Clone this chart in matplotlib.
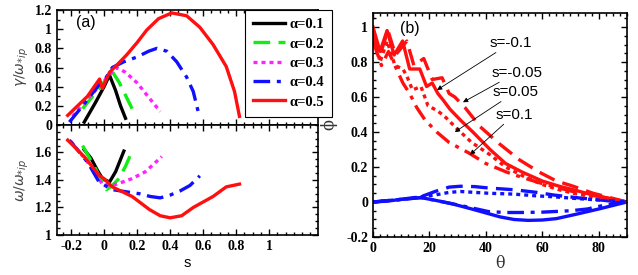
import matplotlib
matplotlib.use("Agg")
import matplotlib.pyplot as plt
from matplotlib.ticker import MultipleLocator, FixedLocator

# ---------------- data ----------------
alphas = ["α=0.1", "α=0.2", "α=0.3", "α=0.4", "α=0.5"]

# growth rate gamma vs s
g_s1 = [-0.12, -0.05, 0.0, 0.033, 0.07, 0.10, 0.13]
g_y1 = [0.03, 0.24, 0.40, 0.52, 0.36, 0.20, 0.07]
g_s2 = [-0.13, -0.05, 0.0, 0.045, 0.09, 0.13, 0.17]
g_y2 = [0.17, 0.34, 0.45, 0.57, 0.45, 0.31, 0.17]
g_s3 = [-0.19, -0.1, -0.02, 0.03, 0.076, 0.13, 0.2, 0.27, 0.34]
g_y3 = [0.09, 0.27, 0.42, 0.52, 0.60, 0.55, 0.44, 0.29, 0.14]
g_s4 = [-0.21, -0.12, -0.03, 0.0, 0.05, 0.12, 0.2, 0.27, 0.32, 0.38, 0.44, 0.5, 0.54, 0.57]
g_y4 = [0.03, 0.22, 0.42, 0.46, 0.60, 0.66, 0.71, 0.77, 0.80, 0.77, 0.66, 0.50, 0.35, 0.14]
g_s5 = [-0.22, -0.1, -0.027, -0.01, 0.033, 0.08, 0.136, 0.2, 0.258, 0.33, 0.41, 0.5, 0.58, 0.66, 0.74, 0.79, 0.82]
g_y5 = [0.10, 0.30, 0.48, 0.38, 0.55, 0.63, 0.73, 0.86, 0.99, 1.11, 1.17, 1.14, 1.02, 0.84, 0.61, 0.35, 0.09]

# real frequency omega vs s
w_s1 = [-0.12, -0.08, -0.04, -0.01, 0.033, 0.07, 0.1, 0.12]
w_y1 = [1.62, 1.56, 1.47, 1.41, 1.385, 1.46, 1.55, 1.61]
w_s2 = [-0.13, -0.06, -0.01, 0.015, 0.05, 0.09, 0.13, 0.17]
w_y2 = [1.65, 1.50, 1.385, 1.33, 1.36, 1.41, 1.50, 1.61]
w_s3 = [-0.2, -0.1, -0.01, 0.05, 0.1, 0.17, 0.25, 0.35]
w_y3 = [1.68, 1.53, 1.37, 1.36, 1.38, 1.41, 1.46, 1.57]
w_s4 = [-0.21, -0.1, -0.03, 0.05, 0.13, 0.215, 0.28, 0.34, 0.4, 0.46, 0.52, 0.58]
w_y4 = [1.69, 1.53, 1.385, 1.33, 1.315, 1.30, 1.28, 1.27, 1.29, 1.32, 1.36, 1.43]
w_s5 = [-0.22, -0.12, -0.027, 0.0, 0.05, 0.17, 0.275, 0.34, 0.40, 0.47, 0.54, 0.6, 0.66, 0.74, 0.82]
w_y5 = [1.69, 1.57, 1.43, 1.41, 1.35, 1.28, 1.185, 1.14, 1.125, 1.14, 1.20, 1.24, 1.28, 1.35, 1.37]

# panel (b): mode structure phi vs theta
s_labels = ["s=-0.1", "s=-0.05", "s=0.05", "s=0.1"]
r_t1 = [0, 2.5, 5, 7.5, 10.5, 13, 16.6, 19, 21, 23, 25, 27.3, 31.5, 35.4, 41.5, 47, 53, 60, 66, 71, 78, 84, 90]
r_p1 = [1.0, 0.86, 0.98, 0.84, 0.92, 0.76, 0.76, 0.66, 0.68, 0.62, 0.58, 0.53, 0.46, 0.40, 0.30, 0.22, 0.17, 0.12, 0.09, 0.07, 0.04, 0.02, 0.0]
r_t2 = [0, 2.5, 5.3, 8, 12, 14.5, 18, 21, 24.5, 27, 29, 32.6, 38, 45, 52, 59, 65, 71, 78, 84, 90]
r_p2 = [0.96, 0.84, 0.98, 0.84, 0.92, 0.78, 0.82, 0.70, 0.71, 0.62, 0.60, 0.54, 0.43, 0.33, 0.24, 0.17, 0.12, 0.09, 0.05, 0.025, 0.0]
r_t3 = [0, 2.5, 5, 7.8, 10.6, 12, 14, 17, 19.5, 23, 26, 29.7, 35, 41.5, 47, 53, 60, 66, 71, 78, 84, 90]
r_p3 = [0.97, 0.80, 0.92, 0.78, 0.76, 0.72, 0.64, 0.66, 0.55, 0.52, 0.48, 0.42, 0.34, 0.27, 0.20, 0.15, 0.10, 0.07, 0.05, 0.03, 0.015, 0.0]
r_t4 = [0, 3, 5.5, 8.9, 10.6, 13, 15.5, 18.4, 22.6, 27, 34, 40, 47.5, 53, 59, 66, 72, 77, 84, 90]
r_p4 = [0.92, 0.78, 0.86, 0.74, 0.68, 0.62, 0.54, 0.47, 0.40, 0.34, 0.28, 0.22, 0.17, 0.14, 0.11, 0.08, 0.055, 0.04, 0.02, 0.0]

b_t1 = [0, 5, 10, 17, 22, 28, 35, 45, 50, 55, 60, 65, 72, 80, 85, 90]
b_p1 = [0, 0.005, 0.015, 0.025, 0.01, -0.01, -0.04, -0.085, -0.1, -0.105, -0.103, -0.095, -0.07, -0.04, -0.02, 0]
b_t2 = [0, 10, 17, 22, 27, 31, 36, 41, 50, 58, 64, 72, 81.5, 90]
b_p2 = [0, 0.015, 0.03, 0.06, 0.085, 0.09, 0.088, 0.08, 0.07, 0.055, 0.04, 0.025, 0.01, 0]
b_t3 = [0, 10, 17, 22, 27, 31, 41, 50, 58, 64, 72, 81.5, 90]
b_p3 = [0, 0.015, 0.03, 0.04, 0.055, 0.06, 0.05, 0.045, 0.035, 0.03, 0.02, 0.01, 0]
b_t4 = [0, 10, 17, 22, 28, 34, 41, 47, 52, 60, 70, 76, 81.5, 86, 90]
b_p4 = [0, 0.015, 0.025, 0.01, -0.01, -0.03, -0.055, -0.06, -0.06, -0.058, -0.05, -0.04, -0.02, -0.005, 0]

# ---------------- style ----------------
cols = ["black", "#11ee11", "#ff22ff", "#1010ff", "#ff1010"]
styles = ["-", (0, (5, 2.5)), (0, (1.2, 1.2)), (0, (5, 2, 1.2, 2)), "-"]
lw = 2.4
tickfont = dict(family="Liberation Serif", weight="bold", size=10)

fig = plt.figure(figsize=(6.38, 2.75), dpi=100)
ax1 = fig.add_axes([0.0893, 0.5455, 0.409, 0.418])
ax2 = fig.add_axes([0.0893, 0.1455, 0.409, 0.400])
ax3 = fig.add_axes([0.5846, 0.1382, 0.398, 0.8145])


def style_ax(ax):
    ax.tick_params(which="both", direction="in", top=True, right=True, width=1.0)
    ax.tick_params(which="major", length=4)
    ax.tick_params(which="minor", length=2)
    for sp in ax.spines.values():
        sp.set_linewidth(1.2)
    for lab in ax.get_xticklabels() + ax.get_yticklabels():
        lab.set_fontfamily(tickfont["family"])
        lab.set_fontweight(tickfont["weight"])
        lab.set_fontsize(tickfont["size"])


gs = [(g_s1, g_y1), (g_s2, g_y2), (g_s3, g_y3), (g_s4, g_y4), (g_s5, g_y5)]
ws = [(w_s1, w_y1), (w_s2, w_y2), (w_s3, w_y3), (w_s4, w_y4), (w_s5, w_y5)]
for i in range(5):
    ax1.plot(gs[i][0], gs[i][1], color=cols[i], ls=styles[i], lw=lw, label=alphas[i])
    ax2.plot(ws[i][0], ws[i][1], color=cols[i], ls=styles[i], lw=lw)

xlim = (-0.285, 1.295)
for ax in (ax1, ax2):
    ax.set_xlim(*xlim)
    ax.xaxis.set_minor_locator(MultipleLocator(0.05))
ax1.set_ylim(0, 1.2)
ax1.set_xticks([-0.2, 0, 0.2, 0.4, 0.6, 0.8, 1.0])
ax1.set_xticklabels([])
ax1.yaxis.set_minor_locator(MultipleLocator(0.1))
ax1.set_yticks([0, 0.2, 0.4, 0.6, 0.8, 1.0, 1.2])
ax1.set_yticklabels(["0", "0.2", "0.4", "0.6", "0.8", "1", "1.2"])
ax2.set_ylim(1, 1.8)
ax2.yaxis.set_minor_locator(MultipleLocator(0.05))
ax2.set_xticks([-0.2, 0, 0.2, 0.4, 0.6, 0.8, 1.0])
ax2.set_xticklabels(["-0.2", "0", "0.2", "0.4", "0.6", "0.8", "1"])
ax2.set_yticks([1.0, 1.2, 1.4, 1.6])
ax2.set_yticklabels(["1", "1.2", "1.4", "1.6"])

ax1.set_ylabel(r"$\gamma/\omega_{*ip}$", fontsize=10, color="#444444", labelpad=3)
ax2.set_ylabel(r"$\omega/\omega_{*ip}$", fontsize=10, color="#444444", labelpad=3)
ax2.set_xlabel("s", fontsize=10.5, family="Liberation Sans", labelpad=2)
ax1.text(-0.17, 1.07, "(a)", fontsize=11.5, family="Liberation Sans", va="center")

leg = ax1.legend(loc="upper right", bbox_to_anchor=(1.054, 1.0), borderaxespad=0,
                 fancybox=False, edgecolor="black",
                 framealpha=1, handlelength=2.2, labelspacing=0.42, borderpad=0.55,
                 handletextpad=0.3, prop=dict(family="Liberation Serif", weight="bold", size=10.5))
leg.get_frame().set_linewidth(0.8)
leg.set_zorder(10)

# panel b
reds = [(r_t1, r_p1), (r_t2, r_p2), (r_t3, r_p3), (r_t4, r_p4)]
blues = [(b_t1, b_p1), (b_t2, b_p2), (b_t3, b_p3), (b_t4, b_p4)]
bstyles = ["-", (0, (5, 2.5)), (0, (1.2, 1.2)), (0, (5, 2, 1.2, 2))]
for i in range(4):
    ax3.plot(reds[i][0], reds[i][1], color="#ff1010", ls=bstyles[i], lw=lw)
    ax3.plot(blues[i][0], blues[i][1], color="#1010ff", ls=bstyles[i], lw=lw)

ax3.set_xlim(0, 90)
ax3.set_ylim(-0.2, 1.08)
ax3.xaxis.set_major_locator(MultipleLocator(20))
ax3.xaxis.set_minor_locator(MultipleLocator(2.5))
ax3.set_yticks([-0.2, 0, 0.2, 0.4, 0.6, 0.8, 1.0])
ax3.set_yticklabels(["-0.2", "0", "0.2", "0.4", "0.6", "0.8", "1"])
ax3.yaxis.set_minor_locator(MultipleLocator(0.05))
ax3.set_xlabel("θ", fontsize=11.5, family="DejaVu Serif", color="#333333", labelpad=0)
ax3.set_ylabel("ϕ", fontsize=11.5, family="DejaVu Serif", color="#333333", labelpad=6)
ax3.text(9.5, 0.99, "(b)", fontsize=11.5, family="Liberation Sans", va="center")

ann_text = [(41.5, 0.87), (42, 0.70), (42.5, 0.59), (43.5, 0.46)]
ann_tip = [(22.7, 0.64), (31.9, 0.57), (29, 0.40), (34.4, 0.27)]
for lab, txt, tip in zip(s_labels, ann_text, ann_tip):
    ax3.annotate(lab, xy=tip, xytext=txt, fontsize=11, family="Liberation Sans",
                 ha="left", va="bottom",
                 arrowprops=dict(arrowstyle="-|>", color="black", lw=0.6,
                                 mutation_scale=7, shrinkA=0, shrinkB=0))

for ax in (ax1, ax2, ax3):
    style_ax(ax)

fig.savefig("out.png", dpi=100)
